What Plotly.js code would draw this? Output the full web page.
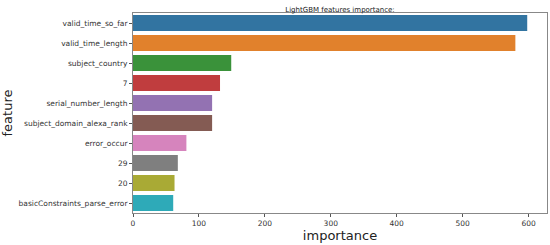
<!DOCTYPE html>
<html>
<head>
<meta charset="utf-8">
<script src="https://cdn.plot.ly/plotly-3.0.1.min.js"></script>
<style>
    html, body { margin: 0; padding: 0; background: #fff; }
    #chart { width: 550px; height: 245px; }
</style>
</head>
<body>
<div id="chart"></div>
<script>
// feature importance values
const features = [
    'valid_time_so_far',
    'valid_time_length',
    'subject_country',
    '7',
    'serial_number_length',
    'subject_domain_alexa_rank',
    'error_occur',
    '29',
    '20',
    'basicConstraints_parse_error'
];
const importance = [598, 580, 149, 132, 120, 120, 81, 68, 63, 61];
const barColors = ['#3274a1', '#e1812c', '#3a923a', '#c03d3e', '#9372b2',
    '#845b53', '#d684bd', '#7f7f7f', '#a9aa35', '#2eaab8'];
const xTicks = [0, 100, 200, 300, 400, 500, 600];

const trace = {
    type: 'bar',
    orientation: 'h',
    x: importance,
    y: features,
    width: 0.8,
    marker: { color: barColors, line: { width: 0 } },
    hoverinfo: 'x+y'
};

const layout = {
    width: 550,
    height: 245,
    margin: { l: 133, r: 3, t: 13, b: 32 },
    paper_bgcolor: '#fff',
    plot_bgcolor: '#fff',
    font: { family: 'DejaVu Sans', color: '#333' },
    showlegend: false,
    title: {
        text: 'LightGBM features importance:',
        font: { size: 7, color: '#222' },
        x: 0.5, xref: 'paper',
        y: 0.97, yref: 'container'
    },
    xaxis: {
        range: [0, 628],
        tickvals: xTicks,
        ticks: 'outside',
        ticklen: 3,
        tickcolor: '#555',
        tickfont: { size: 7.5, color: '#333' },
        showgrid: false,
        zeroline: false,
        showline: true,
        linecolor: '#888',
        mirror: true,
        title: { text: 'importance', font: { size: 13, color: '#222' }, standoff: 0 }
    },
    yaxis: {
        autorange: 'reversed',
        ticks: 'outside',
        ticklen: 3,
        tickcolor: '#555',
        tickfont: { size: 7.5, color: '#333' },
        showgrid: false,
        zeroline: false,
        showline: true,
        linecolor: '#888',
        mirror: true,
        title: { text: 'feature', font: { size: 13, color: '#222' }, standoff: 4 }
    }
};

Plotly.newPlot('chart', [trace], layout, { displayModeBar: false, staticPlot: true });
</script>
</body>
</html>
